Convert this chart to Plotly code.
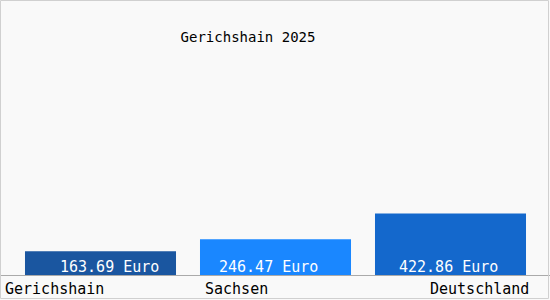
import plotly.graph_objects as go

categories = ["Gerichshain", "Sachsen", "Deutschland"]
values = [163.69, 246.47, 422.86]
value_labels = ["163.69 Euro", "246.47 Euro", "422.86 Euro"]
bar_colors = ["#1a56a0", "#1a87ff", "#1468cc"]
title_text = "Gerichshain 2025"

FONT = "DejaVu Sans Mono"
x_idx = list(range(len(categories)))

fig = go.Figure()
fig.add_trace(go.Bar(
    x=x_idx, y=values, width=0.863,
    marker=dict(color=bar_colors, line=dict(width=0)),
    hoverinfo="skip",
))

# value labels inside bars
label_xshift = [8.5, -7, -2]
for i, (lab, dx) in enumerate(zip(value_labels, label_xshift)):
    fig.add_annotation(x=i, y=0, xref="x", yref="y", text=lab, showarrow=False,
                       xanchor="center", yanchor="bottom", xshift=dx, yshift=-3,
                       font=dict(family=FONT, size=15, color="white"))

# category labels
cat_anchor = ["left", "left", "right"]
cat_shift = [-98, -73, 80.5]
for i, (c, a, dx) in enumerate(zip(categories, cat_anchor, cat_shift)):
    fig.add_annotation(x=i, y=0, xref="x", yref="y", text=c, showarrow=False,
                       xanchor=a, yanchor="top", xshift=dx, yshift=-3,
                       font=dict(family=FONT, size=15, color="black"))

# outer border
fig.add_shape(type="rect", xref="paper", yref="paper",
              x0=0.5/550, x1=548.5/550, y0=(275-298.5)/275, y1=1-0.5/275,
              line=dict(color="#d0d0d0", width=1), layer="above")

fig.update_layout(
    width=550, height=300,
    margin=dict(l=0, r=0, t=0, b=25),
    paper_bgcolor="#f9f9f9", plot_bgcolor="#f9f9f9",
    showlegend=False,
    title=dict(text=title_text, x=248/550, xanchor="center", xref="container",
               y=1-37/300, yanchor="middle", yref="container",
               font=dict(family=FONT, size=14, color="black")),
    xaxis=dict(range=[-100.5/175, 449.5/175], showticklabels=False, showgrid=False,
               zeroline=False, showline=True, linecolor="#aaaaaa", linewidth=1,
               ticks="", fixedrange=True),
    yaxis=dict(range=[0, 1890], showticklabels=False, showgrid=False,
               zeroline=False, showline=False, ticks="", fixedrange=True),
)

fig.write_html("out.html", config={"displayModeBar": False})
